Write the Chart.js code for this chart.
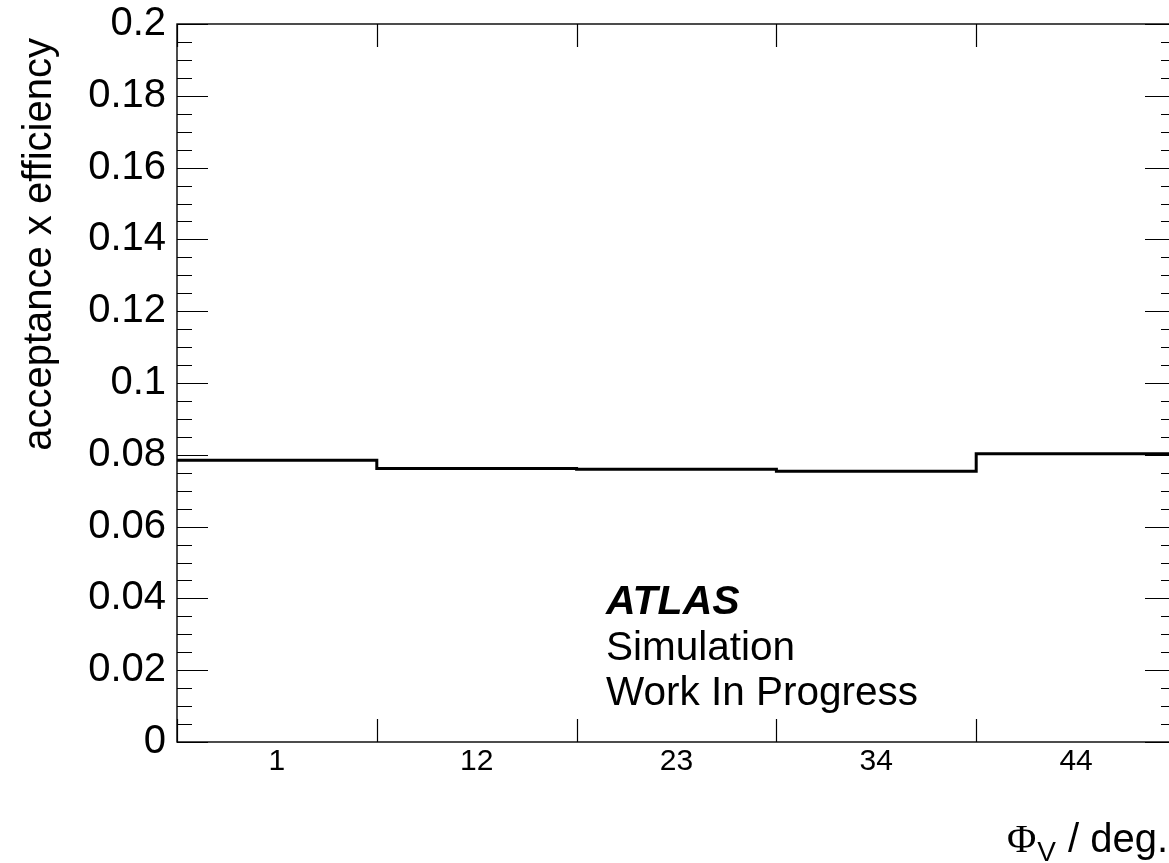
<!DOCTYPE html>
<html>
<head>
<meta charset="utf-8">
<title>acceptance x efficiency</title>
<script src="https://cdn.jsdelivr.net/npm/chart.js@4.4.1/dist/chart.umd.min.js"></script>
<style>
    html, body { margin: 0; padding: 0; background: #fff; overflow: hidden; }
    #wrap { width: 1169px; height: 863px; overflow: hidden; }
    canvas { display: block; }
</style>
</head>
<body>
<div id="wrap">
    <canvas id="chart" width="1190" height="863"></canvas>
</div>
<script>
// Histogram data
const binLabels = ['1', '12', '23', '34', '44'];
const binEdges = [0, 1, 2, 3, 4, 5];
const acceptance = [0.0785, 0.0762, 0.0760, 0.0754, 0.0803];
const yMajorTicks = [0, 0.02, 0.04, 0.06, 0.08, 0.1, 0.12, 0.14, 0.16, 0.18, 0.2];
const yMinorStep = 0.005;

const SANS = "'Liberation Sans', Arial, sans-serif";
const SERIF = "'Liberation Serif', 'Times New Roman', serif";

// step outline: two points per bin
const outline = [];
acceptance.forEach((v, i) => {
    outline.push({ x: binEdges[i], y: v });
    outline.push({ x: binEdges[i + 1], y: v });
});
const binCentres = binLabels.map((_, i) => (binEdges[i] + binEdges[i + 1]) / 2);

const rootFrame = {
    id: 'rootFrame',
    afterDraw(chart) {
        const { ctx, chartArea: a, scales } = chart;
        const xs = scales.x, ys = scales.y;
        ctx.save();
        ctx.strokeStyle = '#000';
        ctx.lineWidth = 1.4;
        ctx.strokeRect(a.left, a.top, a.right - a.left, a.bottom - a.top);

        // y ticks, inward on both sides
        ctx.lineWidth = 1.2;
        ctx.beginPath();
        for (let k = 0; k <= Math.round(0.2 / yMinorStep); k++) {
            const v = k * yMinorStep;
            const y = Math.round(ys.getPixelForValue(v)) + 0.5;
            const len = k % 4 === 0 ? 31 : 15;
            ctx.moveTo(a.left, y); ctx.lineTo(a.left + len, y);
            ctx.moveTo(a.right, y); ctx.lineTo(a.right - len, y);
        }
        // x ticks at bin edges, bottom and top
        binEdges.forEach(e => {
            const x = Math.round(xs.getPixelForValue(e)) + 0.5;
            ctx.moveTo(x, a.bottom); ctx.lineTo(x, a.bottom - 23);
            ctx.moveTo(x, a.top); ctx.lineTo(x, a.top + 23);
        });
        ctx.stroke();

        ctx.fillStyle = '#000';
        // y title
        ctx.save();
        ctx.translate(51, 38);
        ctx.rotate(-Math.PI / 2);
        ctx.font = '40px ' + SANS;
        ctx.textAlign = 'right';
        ctx.textBaseline = 'alphabetic';
        ctx.fillText('acceptance x efficiency', 0, 0);
        ctx.restore();

        // x title: Φ_V / deg.
        ctx.textBaseline = 'alphabetic';
        ctx.textAlign = 'left';
        const xr = 1168;
        const base = 852;
        ctx.font = '40px ' + SANS;
        const tail = ' / deg.';
        const wTail = ctx.measureText(tail).width;
        ctx.font = '28px ' + SANS;
        const wSub = ctx.measureText('V').width;
        ctx.font = '40px ' + SERIF;
        const wPhi = ctx.measureText('\u03A6').width;
        const x0 = xr - wTail - wSub - wPhi - 2;
        ctx.fillText('\u03A6', x0, base);
        ctx.font = '28px ' + SANS;
        ctx.fillText('V', x0 + wPhi + 1, base + 9);
        ctx.font = '40px ' + SANS;
        ctx.fillText(tail, x0 + wPhi + wSub + 2, base);

        // ATLAS label
        ctx.font = 'italic bold 41px ' + SANS;
        ctx.fillText('ATLAS', 606, 614);
        ctx.font = '40.5px ' + SANS;
        ctx.fillText('Simulation', 606, 660);
        ctx.fillText('Work In Progress', 606, 705);
        ctx.restore();
    }
};

new Chart(document.getElementById('chart'), {
    type: 'scatter',
    data: {
        datasets: [{
            label: 'acceptance x efficiency',
            data: outline,
            showLine: true,
            borderColor: '#000',
            borderWidth: 3,
            pointRadius: 0,
            fill: false,
            tension: 0
        }]
    },
    options: {
        responsive: false,
        animation: false,
        layout: { padding: { top: 24, right: 14, left: 0, bottom: 0 } },
        plugins: {
            legend: { display: false },
            tooltip: { enabled: false }
        },
        scales: {
            x: {
                type: 'linear',
                min: binEdges[0],
                max: binEdges[binEdges.length - 1],
                grid: { display: false, drawTicks: false },
                border: { display: false },
                afterBuildTicks: (s) => { s.ticks = binCentres.map(v => ({ value: v })); },
                afterFit: (s) => { s.height = 121; s.paddingLeft = 0; s.paddingRight = 0; },
                ticks: {
                    color: '#000',
                    padding: 2,
                    maxRotation: 0,
                    autoSkip: false,
                    font: { family: SANS, size: 30 },
                    callback: (value, index) => binLabels[index]
                }
            },
            y: {
                type: 'linear',
                min: 0,
                max: 0.2,
                grid: { display: false, drawTicks: false },
                border: { display: false },
                afterBuildTicks: (s) => { s.ticks = yMajorTicks.map(v => ({ value: v })); },
                afterFit: (s) => { s.width = 177; s.paddingTop = 0; s.paddingBottom = 0; },
                ticks: {
                    color: '#000',
                    padding: 11,
                    autoSkip: false,
                    font: { family: SANS, size: 40 },
                    callback: (value) => String(+value.toFixed(3))
                }
            }
        }
    },
    plugins: [rootFrame]
});
</script>
</body>
</html>
